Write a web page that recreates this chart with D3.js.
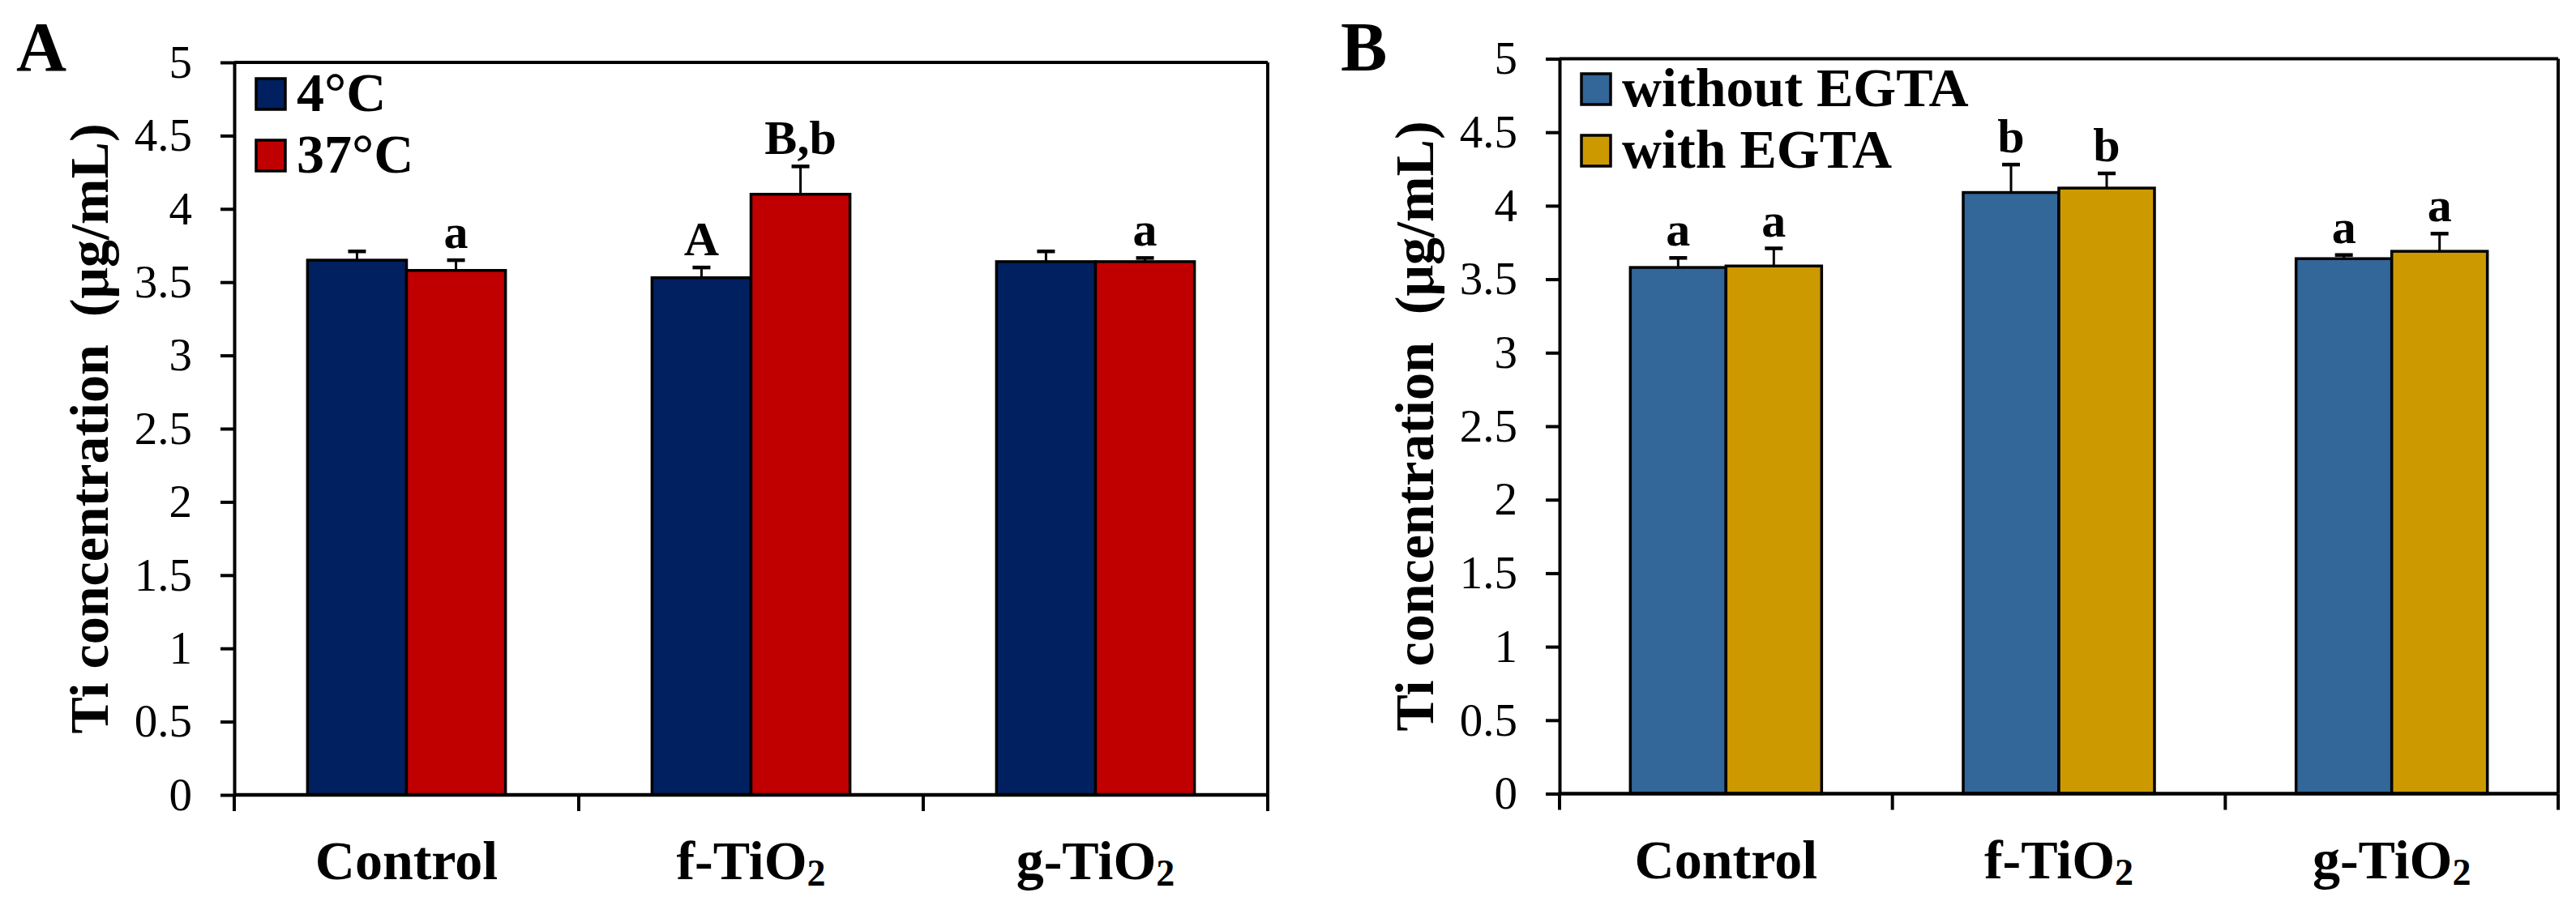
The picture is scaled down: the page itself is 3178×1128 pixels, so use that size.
<!DOCTYPE html>
<html>
<head>
<meta charset="utf-8">
<script src="https://cdn.jsdelivr.net/npm/d3@7"></script>
<style>
  html, body { margin: 0; padding: 0; background: #fff; }
  svg { display: block; }
  text { font-family: "Liberation Serif", "Times New Roman", serif; fill: #000; }
</style>
</head>
<body>
<svg id="chart" width="3178" height="1128"></svg>
<script>
// ---- data ----
const categories = ["Control", "f-TiO2", "g-TiO2"];
const categoryMain = ["Control", "f-TiO", "g-TiO"];
const categorySub = ["", "2", "2"];
const yTicks = [0, 0.5, 1, 1.5, 2, 2.5, 3, 3.5, 4, 4.5, 5];
const yTickLabels = ["0", "0.5", "1", "1.5", "2", "2.5", "3", "3.5", "4", "4.5", "5"];
const yTitle = "Ti concentration  (\u03bcg/mL)";

// Panel A
const seriesA = ["4°C", "37°C"];
const colorsA = ["#00205F", "#C00000"];
const coldValues = [3.65, 3.53, 3.64];
const coldErrors = [0.06, 0.07, 0.07];
const coldLabels = ["", "A", ""];
const warmValues = [3.58, 4.10, 3.64];
const warmErrors = [0.07, 0.19, 0.025];
const warmLabels = ["a", "B,b", "a"];

// Panel B
const seriesB = ["without EGTA", "with EGTA"];
const colorsB = ["#336699", "#CC9900"];
const withoutValues = [3.58, 4.09, 3.64];
const withoutErrors = [0.065, 0.19, 0.025];
const withoutLabels = ["a", "b", "a"];
const withValues = [3.59, 4.12, 3.69];
const withErrors = [0.12, 0.10, 0.12];
const withLabels = ["a", "b", "a"];

// ---- layout ----
const panels = [
  { tag: "A", tagX: 20, left: 289, right: 1564, top: 77, bottom: 981,
    series: seriesA, colors: colorsA,
    values: [coldValues, warmValues], errors: [coldErrors, warmErrors], labels: [coldLabels, warmLabels],
    legendY: 97 },
  { tag: "B", tagX: 1654, left: 1924, right: 3156, top: 72.5, bottom: 979.5,
    series: seriesB, colors: colorsB,
    values: [withoutValues, withValues], errors: [withoutErrors, withErrors], labels: [withoutLabels, withLabels],
    legendY: 91 }
];

const svg = d3.select("#chart");

panels.forEach(p => {
  const g = svg.append("g");
  const x = d3.scaleBand().domain(categories).range([p.left, p.right]).paddingInner(0).paddingOuter(0);
  const x1 = d3.scaleBand().domain(p.series).range([0, x.bandwidth()]).paddingInner(0).paddingOuter(0.74);
  const y = d3.scaleLinear().domain([0, 5]).range([p.bottom, p.top]);

  // panel tag
  g.append("text").attr("x", p.tagX).attr("y", 87)
    .attr("font-size", 86).attr("font-weight", "bold").text(p.tag);

  // bars
  p.series.forEach((s, si) => {
    const rows = categories.map((c, ci) => ({
      c, v: p.values[si][ci], e: p.errors[si][ci], l: p.labels[si][ci]
    }));
    const sg = g.append("g");
    sg.selectAll("rect").data(rows).join("rect")
      .attr("x", d => x(d.c) + x1(s))
      .attr("y", d => y(d.v))
      .attr("width", x1.bandwidth())
      .attr("height", d => y(0) - y(d.v))
      .attr("fill", p.colors[si])
      .attr("stroke", "#000").attr("stroke-width", 3.5);
    // error bars (upper only)
    const cx = d => x(d.c) + x1(s) + x1.bandwidth() / 2;
    sg.selectAll("line.stem").data(rows).join("line").attr("class", "stem")
      .attr("x1", cx).attr("x2", cx)
      .attr("y1", d => y(d.v)).attr("y2", d => y(d.v + d.e))
      .attr("stroke", "#000").attr("stroke-width", 3);
    sg.selectAll("line.cap").data(rows).join("line").attr("class", "cap")
      .attr("x1", d => cx(d) - 11).attr("x2", d => cx(d) + 11)
      .attr("y1", d => y(d.v + d.e)).attr("y2", d => y(d.v + d.e))
      .attr("stroke", "#000").attr("stroke-width", 4.5);
    sg.selectAll("text.sig").data(rows.filter(d => d.l)).join("text").attr("class", "sig")
      .attr("x", cx).attr("y", d => y(d.v + d.e) - 15)
      .attr("text-anchor", "middle").attr("font-size", 60).attr("font-weight", "bold")
      .text(d => d.l);
  });

  // frame (top, right)
  g.append("line").attr("x1", p.left).attr("x2", p.right).attr("y1", p.top).attr("y2", p.top)
    .attr("stroke", "#000").attr("stroke-width", 4);
  g.append("line").attr("x1", p.right).attr("x2", p.right).attr("y1", p.top).attr("y2", p.bottom)
    .attr("stroke", "#000").attr("stroke-width", 4);

  // y axis
  const ya = g.append("g").attr("transform", `translate(${p.left},0)`)
    .call(d3.axisLeft(y).tickValues(yTicks).tickSize(17).tickSizeOuter(0).tickPadding(35)
      .tickFormat((d, i) => yTickLabels[i]));
  ya.select(".domain").attr("stroke", "#000").attr("stroke-width", 4);
  ya.selectAll(".tick line").attr("stroke", "#000").attr("stroke-width", 4);
  ya.selectAll(".tick text").attr("font-size", 57).attr("font-family", "Liberation Serif").attr("fill", "#000");

  // x axis line
  g.append("line").attr("x1", p.left).attr("x2", p.right).attr("y1", p.bottom).attr("y2", p.bottom)
    .attr("stroke", "#000").attr("stroke-width", 4.5);
  // x boundary ticks
  const bounds = categories.map(c => x(c)).concat([x(categories[categories.length - 1]) + x.bandwidth()]);
  g.selectAll("line.xtick").data(bounds).join("line").attr("class", "xtick")
    .attr("x1", d => d).attr("x2", d => d)
    .attr("y1", p.bottom).attr("y2", p.bottom + 20)
    .attr("stroke", "#000").attr("stroke-width", 4);
  // x labels
  categories.forEach((c, ci) => {
    const t = g.append("text").attr("x", x(c) + x.bandwidth() / 2).attr("y", p.bottom + 104)
      .attr("text-anchor", "middle").attr("font-size", 68).attr("font-weight", "bold");
    t.append("tspan").text(categoryMain[ci]);
    if (categorySub[ci]) t.append("tspan").attr("font-size", 46).attr("dy", 8).text(categorySub[ci]);
  });

  // y title
  g.append("text")
    .attr("transform", `translate(${p.left - 156},${(p.top + p.bottom) / 2}) rotate(-90)`)
    .attr("text-anchor", "middle").attr("font-size", 68).attr("font-weight", "bold")
    .style("white-space", "pre").text(yTitle);

  // legend
  p.series.forEach((s, si) => {
    const ly = p.legendY + si * 76;
    g.append("rect").attr("x", p.left + 27).attr("y", ly).attr("width", 36).attr("height", 38)
      .attr("fill", p.colors[si]).attr("stroke", "#000").attr("stroke-width", 3.5);
    g.append("text").attr("x", p.left + 77).attr("y", ly + 40)
      .attr("font-size", 68).attr("font-weight", "bold").text(s);
  });
});
</script>
</body>
</html>
